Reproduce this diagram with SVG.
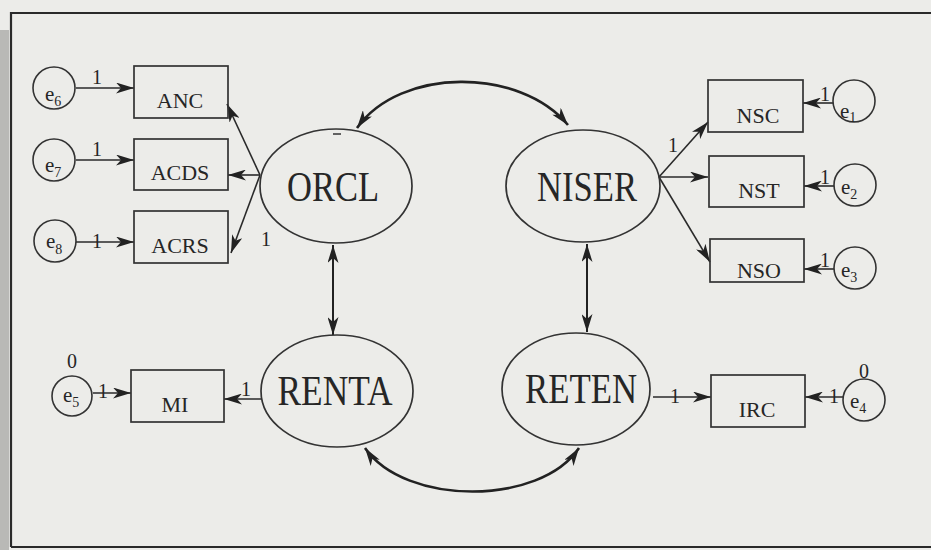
<svg xmlns="http://www.w3.org/2000/svg" width="931" height="550" viewBox="0 0 931 550">
<defs>
<marker id="ah" markerUnits="userSpaceOnUse" markerWidth="18" markerHeight="11" refX="18" refY="5.5" orient="auto-start-reverse">
<path d="M0,0 L18,5.5 L0,11 L5,5.5 z" fill="#222"/>
</marker>
<style>
.bg{fill:#ecece9}
.frame{stroke:#2a2a2a;stroke-width:2.2;fill:none}
.box{fill:none;stroke:#333;stroke-width:1.7}
.ell{fill:none;stroke:#333;stroke-width:1.7}
.err{fill:none;stroke:#333;stroke-width:1.6}
.ln{stroke:#2a2a2a;stroke-width:1.6;fill:none;marker-end:url(#ah)}
.cv{stroke:#222;stroke-width:2.6;fill:none;marker-start:url(#ah);marker-end:url(#ah)}
.dv{stroke:#222;stroke-width:2;fill:none;marker-start:url(#ah);marker-end:url(#ah)}
text{font-family:"Liberation Serif","Times New Roman",serif;fill:#262626}
.bl{font-size:22px;text-anchor:middle}
.el{font-size:42px;text-anchor:middle}
.et{font-size:21px}
.sb{font-size:14px}
.one{font-size:20px;text-anchor:middle}
</style>
</defs>
<rect class="bg" x="0" y="0" width="931" height="550"/>
<rect x="0" y="30" width="9" height="520" fill="#b9b9b6"/>
<path class="frame" d="M11,547 L11,13 L931,13 M11,547 L931,547"/>

<g id="connectors">
<line class="ln" x1="76" y1="88" x2="134" y2="88"/>
<line class="ln" x1="76" y1="160" x2="134" y2="160"/>
<line class="ln" x1="76" y1="242" x2="134" y2="242"/>
<line class="ln" x1="93" y1="393" x2="131" y2="393"/>
<line class="ln" x1="260" y1="175" x2="227" y2="104"/>
<line class="ln" x1="260" y1="175" x2="228" y2="175"/>
<line class="ln" x1="260" y1="175" x2="231" y2="253"/>
<line class="ln" x1="262" y1="399" x2="224" y2="399"/>
<line class="ln" x1="659" y1="177" x2="708" y2="122"/>
<line class="ln" x1="659" y1="177" x2="708" y2="177"/>
<line class="ln" x1="659" y1="177" x2="710" y2="262"/>
<line class="ln" x1="833" y1="103" x2="803" y2="103"/>
<line class="ln" x1="834" y1="186" x2="804" y2="186"/>
<line class="ln" x1="834" y1="269" x2="804" y2="269"/>
<line class="ln" x1="653" y1="397" x2="711" y2="397"/>
<line class="ln" x1="843" y1="397" x2="805" y2="397"/>
<line class="dv" x1="333" y1="245" x2="333" y2="335"/>
<line class="dv" x1="587" y1="244" x2="587" y2="332"/>
<path class="cv" d="M357,128 C400,67 520,67 568,125"/>
<path class="cv" d="M365,448 C405,506 540,506 579,448"/>
<text class="one" x="97" y="84">1</text>
<text class="one" x="97" y="156">1</text>
<text class="one" x="97" y="248">1</text>
<text class="one" x="103" y="398">1</text>
<text class="one" x="246" y="396">1</text>
<text class="one" x="266" y="246">1</text>
<text class="one" x="673" y="152">1</text>
<text class="one" x="825" y="101">1</text>
<text class="one" x="825" y="184">1</text>
<text class="one" x="825" y="267">1</text>
<text class="one" x="675" y="403">1</text>
<text class="one" x="834" y="403">1</text>
</g>

<g id="e6"><circle class="err" cx="54" cy="88" r="21"/><text class="et" x="45" y="101">e<tspan class="sb" dy="5">6</tspan></text></g>
<g id="e7"><circle class="err" cx="54" cy="160" r="21"/><text class="et" x="45" y="172">e<tspan class="sb" dy="5">7</tspan></text></g>
<g id="e8"><circle class="err" cx="55" cy="241" r="21"/><text class="et" x="46" y="248">e<tspan class="sb" dy="6">8</tspan></text></g>
<g id="e5"><circle class="err" cx="72" cy="396" r="20"/><text class="et" x="63" y="402">e<tspan class="sb" dy="5">5</tspan></text><text class="one" x="72" y="368">0</text></g>
<g id="e1"><circle class="err" cx="854" cy="101" r="21"/><text class="et" x="840" y="118">e<tspan class="sb" dy="4">1</tspan></text></g>
<g id="e2"><circle class="err" cx="855" cy="185" r="21"/><text class="et" x="841" y="194">e<tspan class="sb" dy="5">2</tspan></text></g>
<g id="e3"><circle class="err" cx="855" cy="268" r="21"/><text class="et" x="841" y="277">e<tspan class="sb" dy="5">3</tspan></text></g>
<g id="e4"><circle class="err" cx="864" cy="400" r="21"/><text class="et" x="850" y="408">e<tspan class="sb" dy="5">4</tspan></text><text class="one" x="864" y="378">0</text></g>

<g id="ANC"><rect class="box" x="134" y="66" width="94" height="52"/><text class="bl" x="180" y="108">ANC</text></g>
<g id="ACDS"><rect class="box" x="134" y="139" width="94" height="51"/><text class="bl" x="180" y="180">ACDS</text></g>
<g id="ACRS"><rect class="box" x="134" y="211" width="94" height="52"/><text class="bl" x="180" y="253">ACRS</text></g>
<g id="MI"><rect class="box" x="131" y="370" width="93" height="52"/><text class="bl" x="175" y="412">MI</text></g>
<g id="NSC"><rect class="box" x="708" y="80" width="95" height="52"/><text class="bl" x="758" y="123">NSC</text></g>
<g id="NST"><rect class="box" x="709" y="156" width="95" height="51"/><text class="bl" x="759" y="198">NST</text></g>
<g id="NSO"><rect class="box" x="710" y="239" width="94" height="43"/><text class="bl" x="759" y="278">NSO</text></g>
<g id="IRC"><rect class="box" x="711" y="375" width="94" height="52"/><text class="bl" x="757" y="417">IRC</text></g>

<g id="ORCL"><ellipse class="ell" cx="336" cy="186" rx="76" ry="57"/><line x1="333" y1="134" x2="341" y2="134" stroke="#333" stroke-width="1.5"/><text class="el" x="333" y="201" textLength="92" lengthAdjust="spacingAndGlyphs">ORCL</text></g>
<g id="NISER"><ellipse class="ell" cx="583" cy="186" rx="77" ry="56"/><text class="el" x="587" y="201" textLength="100" lengthAdjust="spacingAndGlyphs">NISER</text></g>
<g id="RENTA"><ellipse class="ell" cx="337" cy="391" rx="76" ry="56"/><text class="el" x="335" y="405" textLength="115" lengthAdjust="spacingAndGlyphs">RENTA</text></g>
<g id="RETEN"><ellipse class="ell" cx="576" cy="389" rx="74" ry="56"/><text class="el" x="581" y="403" textLength="112" lengthAdjust="spacingAndGlyphs">RETEN</text></g>
</svg>
